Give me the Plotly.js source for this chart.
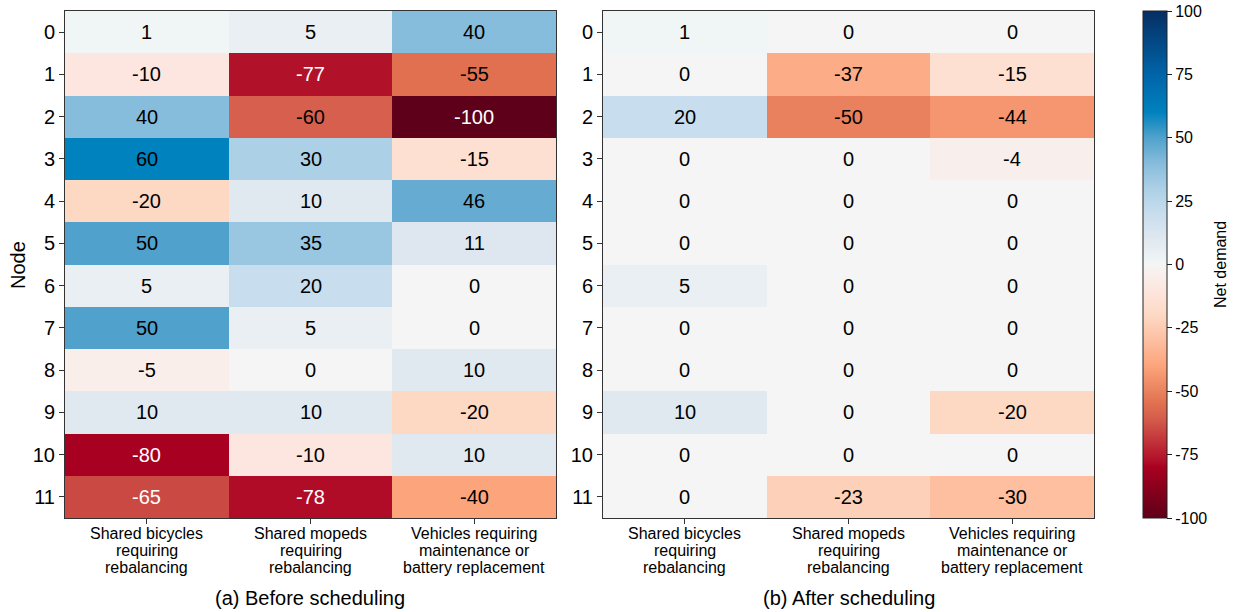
<!DOCTYPE html>
<html>
<head>
<meta charset="utf-8">
<script src="https://cdn.plot.ly/plotly-3.0.1.min.js"></script>
<style>
  html, body { margin: 0; padding: 0; background: #fff; }
  #chart { width: 1237px; height: 612px; }
</style>
</head>
<body>
<div id="chart"></div>
<script>
// Nodes (rows) and vehicle categories (columns)
const nodes = ["0", "1", "2", "3", "4", "5", "6", "7", "8", "9", "10", "11"];
const categories = ["bicycles", "mopeds", "vehicles"];
const categoryLabels = [
  ["Shared bicycles", "requiring", "rebalancing"],
  ["Shared mopeds", "requiring", "rebalancing"],
  ["Vehicles requiring", "maintenance or", "battery replacement"]
];

// Net demand per node, before scheduling
const beforeBicycles = [1, -10, 40, 60, -20, 50, 5, 50, -5, 10, -80, -65];
const beforeMopeds   = [5, -77, -60, 30, 10, 35, 20, 5, 0, 10, -10, -78];
const beforeVehicles = [40, -55, -100, -15, 46, 11, 0, 0, 10, -20, 10, -40];

// Net demand per node, after scheduling
const afterBicycles = [1, 0, 20, 0, 0, 0, 5, 0, 0, 10, 0, 0];
const afterMopeds   = [0, -37, -50, 0, 0, 0, 0, 0, 0, 0, 0, -23];
const afterVehicles = [0, -15, -44, -4, 0, 0, 0, 0, 0, -20, 0, -30];

const captions = ["(a) Before scheduling", "(b) After scheduling"];
const colorbarTicks = [100, 75, 50, 25, 0, -25, -50, -75, -100];

const FONT = "Liberation Sans, Arial, Helvetica, sans-serif";

// Diverging red-white-blue scale over [-100, 100]
const colorscale = [
  [0.000, "#5e0019"],
  [0.100, "#a80020"],
  [0.110, "#b00c28"],
  [0.200, "#d6604d"],
  [0.225, "#e07050"],
  [0.300, "#fca47c"],
  [0.400, "#fdd9c4"],
  [0.450, "#fde6df"],
  [0.500, "#f5f5f5"],
  [0.505, "#f0f5f5"],
  [0.550, "#e0e8f0"],
  [0.600, "#c8ddee"],
  [0.650, "#acd0e6"],
  [0.700, "#86bcdc"],
  [0.750, "#50a2cc"],
  [0.800, "#0082be"],
  [0.875, "#0064a8"],
  [1.000, "#062e63"]
];

function toMatrix(cols) {
  return nodes.map((_, r) => cols.map(c => c[r]));
}

const zBefore = toMatrix([beforeBicycles, beforeMopeds, beforeVehicles]);
const zAfter  = toMatrix([afterBicycles, afterMopeds, afterVehicles]);

const traces = [
  {
    type: "heatmap", x: categories, y: nodes, z: zBefore,
    xaxis: "x", yaxis: "y",
    zmin: -100, zmax: 100, colorscale: colorscale,
    showscale: false, hoverinfo: "skip"
  },
  {
    type: "heatmap", x: categories, y: nodes, z: zAfter,
    xaxis: "x2", yaxis: "y2",
    zmin: -100, zmax: 100, colorscale: colorscale,
    showscale: true, hoverinfo: "skip",
    colorbar: {
      x: 1143 / 1237, xanchor: "left",
      y: 1 - 11 / 612, yanchor: "top",
      len: 507, lenmode: "pixels",
      thickness: 24, thicknessmode: "pixels",
      outlinewidth: 1, outlinecolor: "#222",
      xpad: 0, ypad: 0,
      tickvals: colorbarTicks,
      ticktext: colorbarTicks.map(String),
      ticks: "outside", ticklen: 5, tickcolor: "#222",
      tickfont: { family: FONT, size: 16, color: "#000" }
    }
  }
];

const annotations = [];

// Value labels inside cells, placed on the category / node axes
function addCellLabels(z, xref, yref) {
  z.forEach((row, r) => {
    row.forEach((v, c) => {
      annotations.push({
        x: categories[c], y: nodes[r], xref: xref, yref: yref,
        text: String(v), showarrow: false,
        font: { family: FONT, size: 20, color: v < -62 ? "#ffffff" : "#000000" }
      });
    });
  });
}
addCellLabels(zBefore, "x", "y");
addCellLabels(zAfter, "x2", "y2");

// Multi-line category labels under each panel
function addCategoryLabels(xref) {
  categoryLabels.forEach((lines, c) => {
    lines.forEach((line, i) => {
      annotations.push({
        x: categories[c], xref: xref, yref: "paper",
        y: 1 - (533 + 17 * i) / 612,
        text: line, showarrow: false, xanchor: "center", yanchor: "middle",
        font: { family: FONT, size: 16, color: "#000" }
      });
    });
  });
}
addCategoryLabels("x");
addCategoryLabels("x2");

annotations.push(
  { xref: "paper", yref: "paper", x: (65 + 556) / 2 / 1237, y: 1 - 598 / 612,
    text: captions[0], showarrow: false, xanchor: "center", yanchor: "middle",
    font: { family: FONT, size: 20, color: "#000" } },
  { xref: "paper", yref: "paper", x: (603 + 1094) / 2 / 1237, y: 1 - 598 / 612,
    text: captions[1], showarrow: false, xanchor: "center", yanchor: "middle",
    font: { family: FONT, size: 20, color: "#000" } },
  { xref: "paper", yref: "paper", x: 1220 / 1237, y: 1 - 265 / 612,
    text: "Net demand", showarrow: false, textangle: -90,
    xanchor: "center", yanchor: "middle",
    font: { family: FONT, size: 16, color: "#000" } },
  { xref: "paper", yref: "paper", x: 18 / 1237, y: 1 - 265 / 612,
    text: "Node", showarrow: false, textangle: -90,
    xanchor: "center", yanchor: "middle",
    font: { family: FONT, size: 20, color: "#000" } }
);

const xCommon = {
  type: "category",
  showline: true, mirror: true, linecolor: "#333", linewidth: 1,
  ticks: "outside", ticklen: 5, tickcolor: "#333",
  showticklabels: false,
  showgrid: false, zeroline: false, fixedrange: true
};
const yCommon = {
  type: "category", autorange: "reversed",
  showline: true, mirror: true, linecolor: "#333", linewidth: 1,
  ticks: "outside", ticklen: 5, tickcolor: "#333",
  tickfont: { family: FONT, size: 20, color: "#000" },
  showgrid: false, zeroline: false, fixedrange: true
};

const yTop = 1 - 11 / 612;
const yBottom = 1 - 518 / 612;

const layout = {
  width: 1237, height: 612,
  margin: { l: 0, r: 0, t: 0, b: 0 },
  paper_bgcolor: "#fff", plot_bgcolor: "#fff",
  font: { family: FONT, color: "#000" },
  showlegend: false,
  xaxis:  Object.assign({}, xCommon, { domain: [65 / 1237, 556 / 1237], anchor: "y" }),
  xaxis2: Object.assign({}, xCommon, { domain: [603 / 1237, 1094 / 1237], anchor: "y2" }),
  yaxis:  Object.assign({}, yCommon, { domain: [yBottom, yTop], anchor: "x" }),
  yaxis2: Object.assign({}, yCommon, { domain: [yBottom, yTop], anchor: "x2" }),
  annotations: annotations
};

Plotly.newPlot("chart", traces, layout, { displayModeBar: false, staticPlot: true });
</script>
</body>
</html>
